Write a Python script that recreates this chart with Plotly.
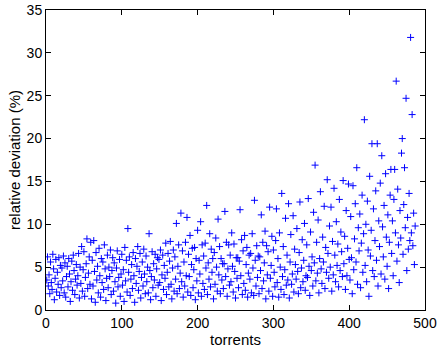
import plotly.graph_objects as go

dev_001_100 = [
    3.5, 6.2, 2.8, 4.1, 1.9, 5.6, 3.2, 2.4, 6.5, 4.8, 1.2, 3.7, 5.9, 2.1, 4.4, 3.0, 6.1, 1.7, 5.2, 2.6,
    4.9, 3.4, 6.3, 2.0, 5.5, 1.5, 3.9, 5.1, 2.7, 6.0, 4.2, 1.0, 3.3, 5.7, 2.3, 6.4, 4.6, 1.8, 3.6, 5.3,
    2.9, 4.0, 6.6, 1.4, 5.0, 3.1, 7.4, 2.2, 4.7, 6.8, 1.6, 3.8, 5.4, 8.3, 2.5, 4.3, 6.2, 3.0, 7.9, 1.3,
    5.8, 2.8, 8.1, 4.5, 0.9, 6.7, 3.5, 5.1, 2.0, 7.2, 4.0, 1.5, 6.0, 3.2, 5.6, 2.4, 7.6, 4.8, 1.1, 3.7,
    6.4, 2.6, 5.0, 3.9, 7.0, 1.8, 4.6, 6.1, 2.2, 5.5, 3.3, 0.8, 4.9, 6.9, 2.7, 3.8, 5.9, 1.6, 4.2, 6.5,
]
dev_101_200 = [
    2.9, 4.7, 1.0, 7.3, 3.4, 5.8, 2.1, 9.5, 4.4, 6.2, 1.7, 3.6, 5.3, 2.5, 6.7, 4.0, 0.9, 6.0, 3.1, 5.1,
    7.4, 2.3, 4.5, 6.6, 1.4, 3.8, 5.6, 2.8, 7.1, 4.2, 1.9, 6.3, 3.3, 5.0, 2.0, 8.9, 4.6, 1.2, 3.9, 6.8,
    2.6, 5.4, 3.5, 6.5, 1.6, 4.8, 6.1, 2.9, 5.9, 3.2, 7.0, 1.1, 4.1, 6.4, 2.4, 5.2, 3.7, 7.8, 1.8, 4.4,
    6.6, 2.7, 5.7, 8.0, 3.0, 1.3, 4.9, 7.0, 2.2, 6.2, 3.6, 10.1, 1.9, 5.1, 7.6, 2.5, 4.3, 11.3, 3.3, 6.9,
    1.5, 5.6, 2.8, 7.9, 4.0, 10.8, 2.1, 6.5, 3.9, 8.7, 1.7, 5.3, 7.2, 2.6, 4.7, 7.3, 1.2, 6.0, 3.4, 9.3,
]
dev_201_300 = [
    2.0, 5.8, 4.2, 10.3, 1.6, 7.6, 3.1, 6.3, 2.4, 7.8, 4.9, 12.2, 1.8, 5.5, 3.6, 8.9, 2.7, 7.1, 4.4, 6.0,
    1.3, 6.7, 3.0, 8.4, 5.0, 2.2, 10.6, 4.1, 7.4, 1.9, 6.0, 3.5, 5.4, 2.5, 5.4, 11.5, 3.9, 7.9, 1.6, 4.8,
    7.6, 2.9, 6.4, 3.3, 9.0, 5.1, 2.1, 7.7, 4.5, 1.4, 6.1, 3.7, 6.1, 2.6, 5.7, 11.7, 4.0, 8.2, 1.8, 6.9,
    3.1, 8.7, 2.3, 5.3, 7.3, 1.5, 4.3, 6.4, 3.6, 6.6, 2.0, 8.9, 4.9, 1.7, 12.8, 5.8, 2.8, 7.5, 3.8, 6.3,
    1.9, 6.2, 4.6, 11.1, 2.5, 7.9, 3.4, 5.5, 9.2, 1.3, 7.5, 4.1, 6.8, 2.2, 12.0, 3.7, 5.2, 8.6, 1.6, 7.0,
]
dev_301_400 = [
    4.4, 2.7, 8.1, 11.8, 3.2, 6.0, 1.5, 9.0, 5.0, 2.4, 13.6, 3.9, 7.4, 1.8, 4.7, 10.7, 2.9, 6.4, 3.5, 12.4,
    1.4, 5.6, 8.8, 3.0, 4.2, 11.0, 2.1, 7.1, 5.3, 3.6, 9.5, 4.5, 1.9, 6.7, 12.6, 2.6, 4.9, 8.2, 3.3, 5.8,
    10.1, 2.3, 4.0, 7.6, 3.8, 13.0, 5.1, 1.7, 9.1, 4.6, 6.2, 2.8, 11.4, 5.5, 16.9, 3.4, 7.9, 4.3, 10.5, 2.0,
    6.0, 13.8, 4.8, 3.1, 8.5, 5.6, 12.1, 2.5, 7.3, 4.4, 15.2, 6.6, 3.7, 9.8, 5.0, 12.0, 2.2, 8.0, 4.1, 14.2,
    6.4, 3.3, 10.3, 5.2, 7.7, 2.7, 12.9, 4.6, 9.1, 6.8, 3.9, 15.1, 5.4, 8.6, 2.4, 11.6, 4.0, 7.2, 14.7, 5.9,
]
dev_401_487 = [
    3.5, 10.9, 6.1, 1.9, 14.5, 4.7, 8.3, 12.4, 5.6, 16.6, 3.0, 9.6, 6.9, 11.2, 2.6, 7.8, 13.4, 4.4, 8.9, 22.2,
    5.2, 10.0, 3.3, 12.7, 7.0, 1.6, 15.6, 6.3, 9.3, 19.4, 4.6, 11.8, 3.9, 8.1, 13.9, 5.8, 19.4, 2.8, 10.4, 7.4,
    14.8, 4.2, 18.0, 9.7, 6.2, 12.2, 3.6, 15.9, 8.5, 5.1, 11.1, 2.5, 7.9, 13.4, 16.4, 6.6, 10.4, 4.0, 12.9, 16.4,
    9.0, 26.7, 5.7, 14.1, 7.6, 3.2, 11.6, 8.4, 18.3, 20.0, 6.5, 12.3, 16.6, 9.6, 24.7, 4.6, 10.8, 7.1, 13.6, 8.1,
    31.8, 9.0, 22.8, 7.5, 11.3, 5.3, 9.8,
]

deviation = dev_001_100 + dev_101_200 + dev_201_300 + dev_301_400 + dev_401_487
torrents = list(range(1, len(deviation) + 1))

x_ticks = [0, 100, 200, 300, 400, 500]
y_ticks = [0, 5, 10, 15, 20, 25, 30, 35]

FONT = "Liberation Sans, Arial, sans-serif"

fig = go.Figure()
fig.add_trace(go.Scatter(
    x=torrents, y=deviation, mode="markers",
    marker=dict(symbol="cross-thin", size=5, line=dict(color="#0000ff", width=1), color="#0000ff"),
    showlegend=False, hoverinfo="skip",
))

axis_common = dict(
    showgrid=False, zeroline=False, showline=True, linecolor="black", linewidth=1,
    mirror="ticks", ticks="inside", ticklen=5, tickcolor="black", automargin=False,
    tickfont=dict(family=FONT, size=14, color="black"),
)
fig.update_xaxes(range=[0, 500], tickvals=x_ticks,
                 title=dict(text="torrents", standoff=4, font=dict(family=FONT, size=15, color="black")),
                 **axis_common)
fig.update_yaxes(range=[0, 35], tickvals=y_ticks,
                 title=dict(text="relative deviation (%)", standoff=2, font=dict(family=FONT, size=15, color="black")),
                 **axis_common)

fig.update_layout(
    width=439, height=348,
    margin=dict(l=46, r=14, t=10, b=38, autoexpand=False),
    paper_bgcolor="white", plot_bgcolor="white",
)

fig.write_html("out.html", config={"displayModeBar": False},
               post_script="document.body.style.margin='0';document.body.style.overflow='hidden';")
